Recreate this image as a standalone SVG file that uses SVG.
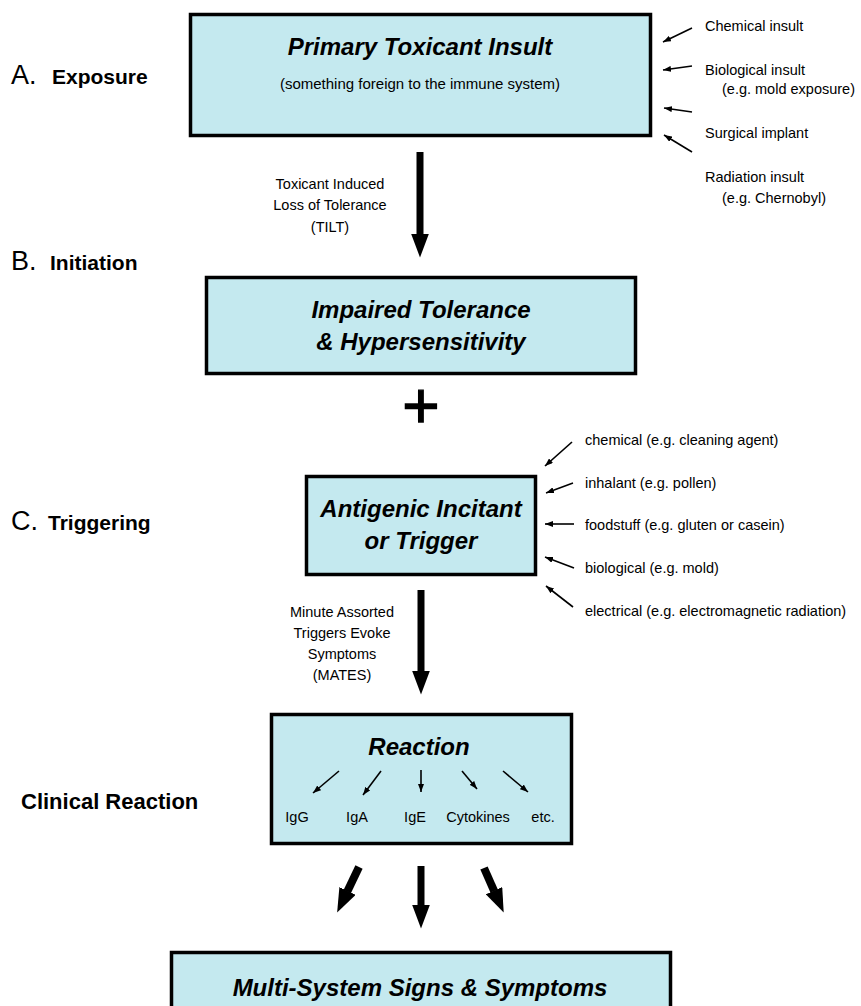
<svg xmlns="http://www.w3.org/2000/svg" width="861" height="1006" viewBox="0 0 861 1006">
  <style>
    .box { fill: #C4E9EF; stroke: #000; stroke-width: 3.5; }
    .title { font-family: "Liberation Sans", Arial, sans-serif; font-weight: bold; font-style: italic; font-size: 24px; text-anchor: middle; fill: #000; }
    .sub { font-family: "Liberation Sans", Arial, sans-serif; font-size: 15px; text-anchor: middle; fill: #000; }
    .small { font-family: "Liberation Sans", Arial, sans-serif; font-size: 14.5px; fill: #000; }
    .mid { text-anchor: middle; }
    .stage { font-family: "Liberation Sans", Arial, sans-serif; font-size: 27px; fill: #000; }
    .stagew { font-family: "Liberation Sans", Arial, sans-serif; font-size: 21px; font-weight: bold; fill: #000; }
    .plus { font-family: "Liberation Sans", Arial, sans-serif; font-size: 64px; text-anchor: middle; fill: #000; stroke: #000; stroke-width: 1.3; }
    .big { fill: none; stroke: #000; stroke-width: 7; marker-end: url(#bighead); }
    .thin { fill: none; stroke: #000; stroke-width: 1.6; marker-end: url(#smallhead); }
  </style>
  <defs>
    <marker id="bighead" markerUnits="userSpaceOnUse" viewBox="0 0 24 18" refX="0.5" refY="9" markerWidth="24" markerHeight="18" orient="auto">
      <path d="M0,0 L24,9 L0,18 z" fill="#000"/>
    </marker>
    <marker id="smallhead" markerUnits="userSpaceOnUse" viewBox="0 0 8 6" refX="8" refY="3" markerWidth="8" markerHeight="6" orient="auto">
      <path d="M0,0 L8,3 L0,6 z" fill="#000"/>
    </marker>
  </defs>
  <rect width="861" height="1006" fill="#fff"/>

  <!-- Stage labels -->
  <g id="stage-labels">
    <text x="11" y="84"><tspan class="stage">A.</tspan><tspan class="stagew" x="52">Exposure</tspan></text>
    <text x="11" y="270"><tspan class="stage">B.</tspan><tspan class="stagew" x="50">Initiation</tspan></text>
    <text x="11" y="530"><tspan class="stage">C.</tspan><tspan class="stagew" x="48">Triggering</tspan></text>
    <text x="21" y="809" class="stagew" style="font-size:22px">Clinical Reaction</text>
  </g>

  <!-- Nodes -->
  <g id="node-primary">
    <rect class="box" x="190.5" y="14.5" width="460" height="121"/>
    <text class="title" x="420" y="55">Primary Toxicant Insult</text>
    <text class="sub" x="420" y="89">(something foreign to the immune system)</text>
  </g>
  <g id="node-impaired">
    <rect class="box" x="206.5" y="277.5" width="429" height="96"/>
    <text class="title" x="421" y="318">Impaired Tolerance</text>
    <text class="title" x="421" y="350">&amp; Hypersensitivity</text>
  </g>
  <g id="node-plus">
    <text class="plus" x="421" y="428">+</text>
  </g>
  <g id="node-antigenic">
    <rect class="box" x="306.5" y="476.5" width="229" height="98"/>
    <text class="title" x="421" y="517">Antigenic Incitant</text>
    <text class="title" x="421" y="549">or Trigger</text>
  </g>
  <g id="node-reaction">
    <rect class="box" x="271.5" y="714.5" width="300" height="129"/>
    <text class="title" x="419" y="755">Reaction</text>
    <text class="small mid" x="297" y="822">IgG</text>
    <text class="small mid" x="357" y="822">IgA</text>
    <text class="small mid" x="415" y="822">IgE</text>
    <text class="small mid" x="478" y="822">Cytokines</text>
    <text class="small mid" x="543" y="822">etc.</text>
  </g>
  <g id="node-multi">
    <rect class="box" x="171.5" y="952.5" width="499" height="70"/>
    <text class="title" x="420" y="996">Multi-System Signs &amp; Symptoms</text>
  </g>

  <!-- Annotations -->
  <g id="exposure-sources">
    <text class="small" x="705" y="31">Chemical insult</text>
    <text class="small" x="705" y="75">Biological insult</text>
    <text class="small" x="722" y="94">(e.g. mold exposure)</text>
    <text class="small" x="705" y="138">Surgical implant</text>
    <text class="small" x="705" y="182">Radiation insult</text>
    <text class="small" x="722" y="203">(e.g. Chernobyl)</text>
  </g>
  <g id="trigger-sources">
    <text class="small" x="585" y="445">chemical (e.g. cleaning agent)</text>
    <text class="small" x="585" y="488">inhalant (e.g. pollen)</text>
    <text class="small" x="585" y="530">foodstuff (e.g. gluten or casein)</text>
    <text class="small" x="585" y="573">biological (e.g. mold)</text>
    <text class="small" x="585" y="616">electrical (e.g. electromagnetic radiation)</text>
  </g>
  <g id="connector-labels">
    <text class="small mid" x="330" y="189">Toxicant Induced</text>
    <text class="small mid" x="330" y="210">Loss of Tolerance</text>
    <text class="small mid" x="330" y="232">(TILT)</text>
    <text class="small mid" x="342" y="617">Minute Assorted</text>
    <text class="small mid" x="342" y="638">Triggers Evoke</text>
    <text class="small mid" x="342" y="659">Symptoms</text>
    <text class="small mid" x="342" y="680">(MATES)</text>
  </g>

  <!-- Connectors -->
  <g id="connectors">
    <path class="big" d="M420,152 L420,234"/>
    <path class="big" d="M421,590 L421,671"/>
    <path class="big" d="M359,867 L347.3,891.4" style="stroke-width:8"/>
    <path class="big" d="M421,866 L421,905"/>
    <path class="big" d="M484,868 L494.2,891.1" style="stroke-width:8"/>

    <path class="thin" d="M692,28 L663,42"/>
    <path class="thin" d="M692,66 L663,70"/>
    <path class="thin" d="M692,112 L664,108"/>
    <path class="thin" d="M692,152 L664,135"/>

    <path class="thin" d="M572,442 L545,466"/>
    <path class="thin" d="M573,483 L546,493"/>
    <path class="thin" d="M574,524 L545,524"/>
    <path class="thin" d="M574,568 L545,557"/>
    <path class="thin" d="M573,607 L546,586"/>

    <path class="thin" d="M339,771 L313,793"/>
    <path class="thin" d="M381,771 L363,795"/>
    <path class="thin" d="M421,770 L421,792"/>
    <path class="thin" d="M462,771 L477,789"/>
    <path class="thin" d="M503,771 L528,792"/>
  </g>
</svg>
